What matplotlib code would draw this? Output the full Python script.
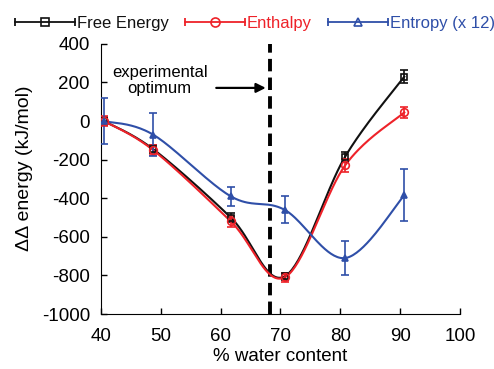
import numpy as np
import matplotlib
matplotlib.use("Agg")
import matplotlib.pyplot as plt
from matplotlib.lines import Line2D
from matplotlib.legend_handler import HandlerBase

plt.rcParams['font.family'] = ['Liberation Sans', 'DejaVu Sans']
plt.rcParams['axes.unicode_minus'] = False

# data
water = [40.5, 48.7, 61.7, 70.7, 80.8, 90.7]
free_energy = [0, -145, -500, -805, -185, 230]
free_energy_err = [20, 20, 25, 20, 25, 35]
enthalpy = [0, -150, -520, -810, -230, 45]
enthalpy_err = [25, 25, 30, 25, 35, 30]
entropy = [0, -70, -390, -460, -710, -385]
entropy_err = [120, 110, 50, 70, 90, 135]
optimum = 68.3

BLACK = '#111111'
RED = '#ee2229'
BLUE = '#2f4fa8'


def smooth(x, y, n=40):
    # Catmull-Rom style smoothing (like a spreadsheet "smoothed line")
    x = np.asarray(x, float)
    y = np.asarray(y, float)
    px = np.concatenate([[x[0]], x, [x[-1]]])
    py = np.concatenate([[y[0]], y, [y[-1]]])
    xs, ys = [], []
    t = np.linspace(0, 1, n)
    for i in range(1, len(px) - 2):
        p0 = np.array([px[i], py[i]])
        p3 = np.array([px[i + 1], py[i + 1]])
        c1 = p0 + (np.array([px[i + 1], py[i + 1]]) - np.array([px[i - 1], py[i - 1]])) / 6
        c2 = p3 - (np.array([px[i + 2], py[i + 2]]) - np.array([px[i], py[i]])) / 6
        b = ((1 - t) ** 3)[:, None] * p0 + (3 * (1 - t) ** 2 * t)[:, None] * c1 \
            + (3 * (1 - t) * t ** 2)[:, None] * c2 + (t ** 3)[:, None] * p3
        xs.append(b[:, 0])
        ys.append(b[:, 1])
    return np.concatenate(xs), np.concatenate(ys)


class CapLineHandler(HandlerBase):
    def create_artists(self, legend, orig, xdescent, ydescent, width, height,
                       fontsize, trans):
        y = height / 2 - ydescent
        x0, x1 = -xdescent, width - xdescent
        col = orig.get_color()
        line = Line2D([x0, x1], [y, y], color=col, lw=1.3, transform=trans)
        caps = Line2D([x0, x1], [y, y], color=col, lw=0, marker='|',
                      markersize=6, markeredgewidth=1.3, transform=trans)
        mk = Line2D([(x0 + x1) / 2], [y], color=col, lw=0,
                    marker=orig.get_marker(), markersize=orig.get_markersize(),
                    markerfacecolor=orig.get_markerfacecolor(),
                    markeredgecolor=col, markeredgewidth=1.2, transform=trans)
        return [line, caps, mk]


fig = plt.figure(figsize=(4.94, 3.69), dpi=100)
ax = fig.add_axes([0.2045, 0.149, 0.7265, 0.732])

series = [
    ('Free Energy', free_energy, free_energy_err, BLACK, 's', 'none', 5),
    ('Enthalpy', enthalpy, enthalpy_err, RED, 'o', 'none', 5.5),
    ('Entropy (x 12)', entropy, entropy_err, BLUE, '^', BLUE, 4.5),
]
handles = []
for name, vals, err, col, mk, fc, ms in series:
    sx, sy = smooth(water, vals)
    ax.plot(sx, sy, color=col, lw=1.5, zorder=3)
    ax.errorbar(water, vals, yerr=err, fmt=mk, color=col, mfc=fc, mec=col,
                ms=ms, mew=1.2, elinewidth=1.2, capsize=3, capthick=1.2,
                zorder=4)
    handles.append(Line2D([], [], color=col, marker=mk, markersize=ms + 1,
                          markerfacecolor='none', label=name))

ax.axvline(optimum, color='black', lw=2.8, ls=(0, (3.2, 1.6)), zorder=2)
ax.annotate('', xy=(optimum - 0.3, 172), xytext=(58.8, 172),
            arrowprops=dict(arrowstyle='-|>', color='black', lw=1.6,
                            mutation_scale=14))
ax.text(49.8, 210, 'experimental\noptimum', ha='center', va='center',
        fontsize=12, linespacing=1.15)

ax.set_xlim(40, 100)
ax.set_ylim(-1000, 400)
ax.set_xticks(np.arange(40, 101, 10))
ax.set_yticks(np.arange(-1000, 401, 200))
ax.tick_params(direction='in', labelsize=13.5, length=4, width=1)
ax.tick_params(axis='y', pad=8)
ax.tick_params(axis='x', pad=10)
ax.spines['top'].set_visible(False)
ax.spines['right'].set_visible(False)
ax.set_xlabel('% water content', fontsize=13.5, labelpad=2)
ax.set_ylabel('ΔΔ energy (kJ/mol)', fontsize=14, labelpad=4)
ax.yaxis.set_label_coords(-0.19, 0.54)

leg = fig.legend(handles=handles, loc='upper left', bbox_to_anchor=(0.01, 0.985),
                 ncol=3, frameon=False, fontsize=12, handlelength=3.6,
                 handletextpad=0.1, columnspacing=1.0, borderaxespad=0.2,
                 handler_map={Line2D: CapLineHandler()})
for txt, (_, _, _, col, _, _, _) in zip(leg.get_texts(), series):
    txt.set_color(col)

fig.savefig('out.png', dpi=100)
